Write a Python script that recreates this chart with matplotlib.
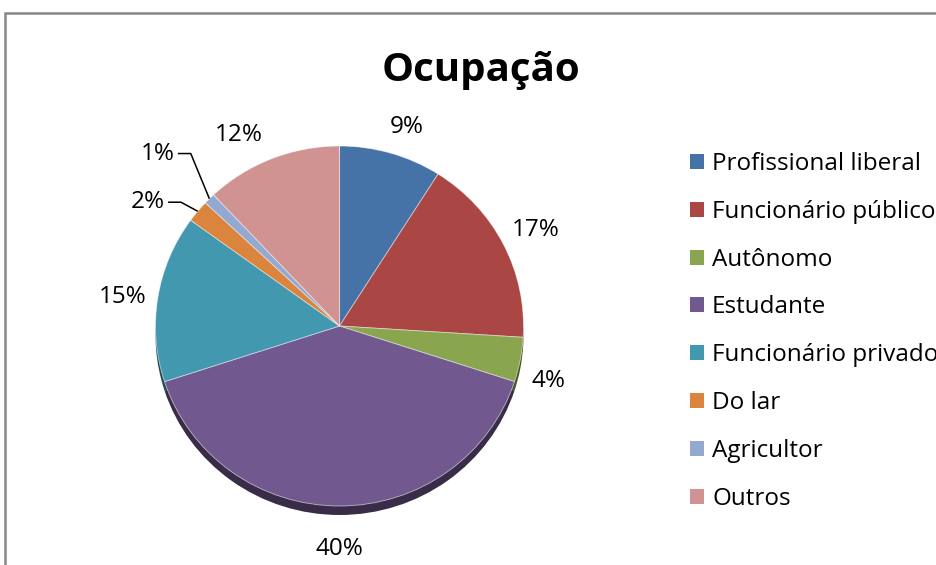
import matplotlib
matplotlib.use("Agg")
import matplotlib.pyplot as plt
import numpy as np
from matplotlib.patches import Rectangle, Patch
from matplotlib.colors import to_rgb

title = "Ocupação"
categories = ["Profissional liberal", "Funcionário público", "Autônomo", "Estudante",
              "Funcionário privado", "Do lar", "Agricultor", "Outros"]
values = [9, 17, 4, 40, 15, 2, 1, 12]
colors = ["#4572A7", "#AA4643", "#89A54E", "#71588F", "#4198AF", "#DB843D", "#93A9CF", "#D19392"]

W, H = 936, 565
DPI = 100
FONT = "Open Sans"

fig = plt.figure(figsize=(W / DPI, H / DPI), dpi=DPI)
fig.patch.set_facecolor("white")

# chart frame (gray border, runs off right/bottom)
fig.add_artist(Rectangle((5 / W, -0.1), 2.0, (H - 13) / H + 0.1, transform=fig.transFigure,
                         fill=False, edgecolor="#878787", linewidth=1.8, clip_on=False))

# pie geometry in pixels
cx, cy_top = 339.5, 326.0
rx, ry = 184.0, 180.0
cy = H - cy_top
ax = fig.add_axes([0, 0, 1, 1])
ax.axis("off")

def darker(c, f=0.5):
    r, g, b = to_rgb(c)
    return (r * f, g * f, b * f)

# shadow
ax.pie(values, colors=[darker(c) for c in colors], startangle=90, counterclock=False,
       center=(0, -0.05), radius=1.0, wedgeprops=dict(linewidth=0), frame=False)
wedges, _ = ax.pie(values, colors=colors, startangle=90, counterclock=False,
                   center=(0, 0), radius=1.0,
                   wedgeprops=dict(linewidth=0.6, edgecolor=(1, 1, 1, 0.6)), frame=False)
ax.set_xlim(-cx / rx, (W - cx) / rx)
ax.set_ylim(-cy / ry, (H - cy) / ry)
ax.set_aspect("auto")

total = sum(values)
cum = np.cumsum([0] + values[:-1])
mids = [(c + v / 2) / total * 360 for c, v in zip(cum, values)]  # clockwise from top

# (angle offset, radial distance) for each label
label_pos = [(2.2, 1.165), (0.4, 1.19), (4.3, 1.174), (0.0, 1.24), (-1.2, 1.188),
             (-3.6, 1.17), (2.0, 1.31), (-5.6, 1.193)]
leader_idx = {5, 6}
lab_fs = 17.5

def pol(theta_deg, d):
    t = np.radians(theta_deg)
    return d * np.sin(t), d * np.cos(t)

for i, v in enumerate(values):
    txt = f"{v}%"
    dth, d = label_pos[i]
    x, y = pol(mids[i] + dth, d)
    if i in leader_idx:
        ex, ey = pol(mids[i], 1.0)
        elbow = x + 0.085
        ax.plot([x + 0.015, elbow, ex], [y, y, ey], color="black", linewidth=1.1,
                solid_capstyle="butt")
        ax.text(x, y, txt, ha="right", va="center", fontsize=lab_fs, family=FONT, color="black")
    else:
        ax.text(x, y, txt, ha="center", va="center", fontsize=lab_fs, family=FONT, color="black")

fig.text(481 / W, 1 - 71 / H, title, ha="center", va="center", fontsize=29,
         fontweight="bold", family=FONT, color="black")

handles = [Patch(facecolor=c, edgecolor="none") for c in colors]
leg = fig.legend(handles, categories, loc="upper left",
                 bbox_to_anchor=(690 / W, 1 - 152 / H), frameon=False,
                 prop=dict(family=FONT, size=17.5), handlelength=0.58, handleheight=0.58,
                 handletextpad=0.33, labelspacing=0.98, borderpad=0, borderaxespad=0)

fig.savefig("out.png", dpi=DPI)
